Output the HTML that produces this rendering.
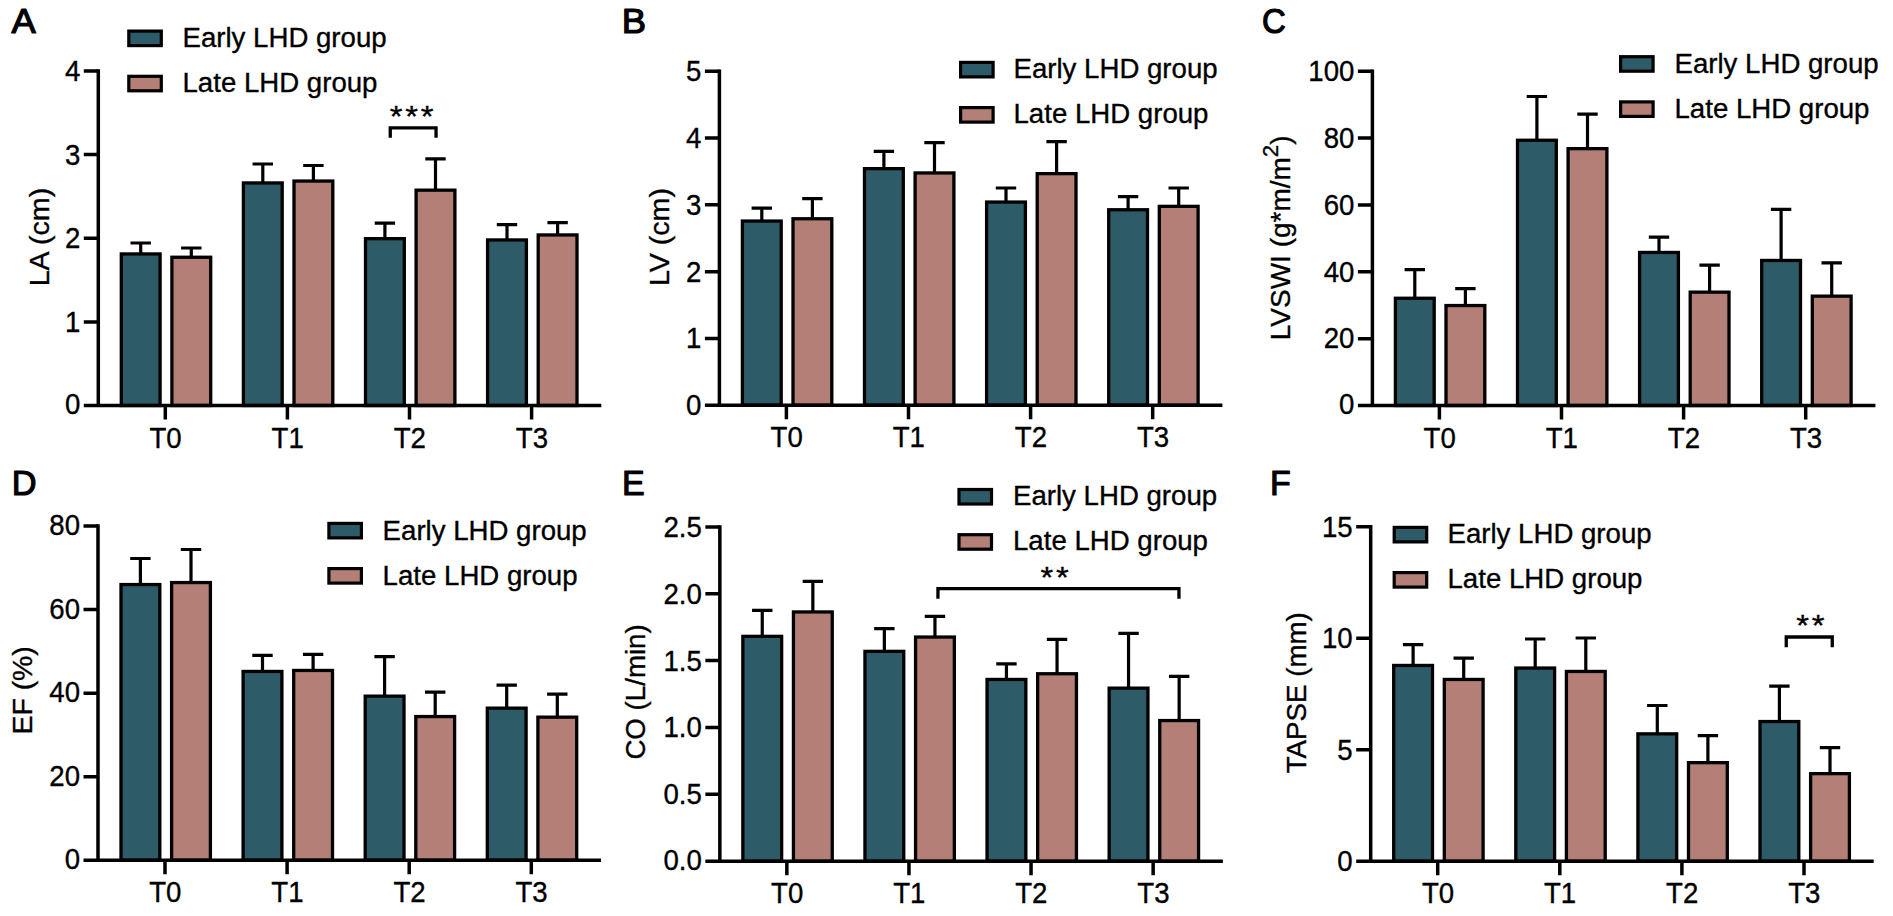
<!DOCTYPE html>
<html lang="en"><head><meta charset="utf-8"><title>Figure</title>
<style>html,body{margin:0;padding:0;background:#fff}body{width:1893px;height:916px;overflow:hidden}svg{display:block}text{font-family:"Liberation Sans", Arial, Helvetica, sans-serif;fill:#000;stroke:#000;stroke-width:.35px}</style></head><body>
<svg width="1893" height="916" viewBox="0 0 1893 916">
<rect width="1893" height="916" fill="#fff"/>
<g>
<text transform="translate(11.5 32.6) scale(1.03 1)" font-size="35.4" style="stroke-width:1.2px;stroke-linejoin:round">A</text>
<path d="M140.7 253.3V243M130.5 243H150.9" fill="none" stroke="#000" stroke-width="3.2"/>
<rect x="121.3" y="253.95" width="38.8" height="151.55" fill="#2d5c68" stroke="#000" stroke-width="3.3"/>
<path d="M191.3 256.6V248M181.1 248H201.5" fill="none" stroke="#000" stroke-width="3.2"/>
<rect x="171.9" y="257.25" width="38.8" height="148.25" fill="#b47f77" stroke="#000" stroke-width="3.3"/>
<path d="M262.8 182.3V164M252.6 164H273" fill="none" stroke="#000" stroke-width="3.2"/>
<rect x="243.4" y="182.95" width="38.8" height="222.55" fill="#2d5c68" stroke="#000" stroke-width="3.3"/>
<path d="M313.4 180.4V165.5M303.2 165.5H323.6" fill="none" stroke="#000" stroke-width="3.2"/>
<rect x="294" y="181.05" width="38.8" height="224.45" fill="#b47f77" stroke="#000" stroke-width="3.3"/>
<path d="M384.9 238V223.2M374.7 223.2H395.1" fill="none" stroke="#000" stroke-width="3.2"/>
<rect x="365.5" y="238.65" width="38.8" height="166.85" fill="#2d5c68" stroke="#000" stroke-width="3.3"/>
<path d="M435.5 189.5V158.8M425.3 158.8H445.7" fill="none" stroke="#000" stroke-width="3.2"/>
<rect x="416.1" y="190.15" width="38.8" height="215.35" fill="#b47f77" stroke="#000" stroke-width="3.3"/>
<path d="M507 239.3V224.6M496.8 224.6H517.2" fill="none" stroke="#000" stroke-width="3.2"/>
<rect x="487.6" y="239.95" width="38.8" height="165.55" fill="#2d5c68" stroke="#000" stroke-width="3.3"/>
<path d="M557.6 234.3V222.6M547.4 222.6H567.8" fill="none" stroke="#000" stroke-width="3.2"/>
<rect x="538.2" y="234.95" width="38.8" height="170.55" fill="#b47f77" stroke="#000" stroke-width="3.3"/>
<path d="M98.3 69.25V407.25M83.8 405.5H601.3" fill="none" stroke="#000" stroke-width="3.5"/>
<text transform="translate(80.3 413.8) scale(0.965 1)" font-size="28.6" text-anchor="end">0</text>
<text transform="translate(80.3 332.07) scale(0.965 1)" font-size="28.6" text-anchor="end">1</text>
<text transform="translate(80.3 248.45) scale(0.965 1)" font-size="28.6" text-anchor="end">2</text>
<text transform="translate(80.3 164.82) scale(0.965 1)" font-size="28.6" text-anchor="end">3</text>
<text transform="translate(80.3 81.2) scale(0.965 1)" font-size="28.6" text-anchor="end">4</text>
<text transform="translate(165.6 447.7) scale(0.965 1)" font-size="28.6" text-anchor="middle">T0</text>
<text transform="translate(287.7 447.7) scale(0.965 1)" font-size="28.6" text-anchor="middle">T1</text>
<text transform="translate(409.8 447.7) scale(0.965 1)" font-size="28.6" text-anchor="middle">T2</text>
<text transform="translate(531.9 447.7) scale(0.965 1)" font-size="28.6" text-anchor="middle">T3</text>
<path d="M83.8 321.88H98.3M83.8 238.25H98.3M83.8 154.62H98.3M83.8 71H98.3M165.3 405.5V419.6M287.4 405.5V419.6M409.5 405.5V419.6M531.6 405.5V419.6" fill="none" stroke="#000" stroke-width="3.5"/>
<text transform="translate(48.5 237.05) rotate(-90) scale(1 0.965)" font-size="28.6" text-anchor="middle">LA (cm)</text>
<rect x="128.8" y="31.1" width="32.5" height="14.5" fill="#2d5c68" stroke="#000" stroke-width="3.2"/>
<text transform="translate(182.5 46.8) scale(0.973 1)" font-size="28.4">Early LHD group</text>
<rect x="128.8" y="76.3" width="32.5" height="14.5" fill="#b47f77" stroke="#000" stroke-width="3.2"/>
<text transform="translate(182.5 92) scale(0.973 1)" font-size="28.4">Late LHD group</text>
<path d="M390.25 137.85V127.85H436.05V137.85" fill="none" stroke="#000" stroke-width="3.3"/>
<text transform="translate(413.1 126.25) scale(1.08 1)" font-size="30.3" letter-spacing="2.6" text-anchor="middle">***</text>
</g>
<g>
<text transform="translate(621.85 32.6) scale(1.03 1)" font-size="35.4" style="stroke-width:1.2px;stroke-linejoin:round">B</text>
<path d="M761.8 220.4V208.1M751.6 208.1H772" fill="none" stroke="#000" stroke-width="3.2"/>
<rect x="742.4" y="221.05" width="38.8" height="184.15" fill="#2d5c68" stroke="#000" stroke-width="3.3"/>
<path d="M812.4 218.1V198.7M802.2 198.7H822.6" fill="none" stroke="#000" stroke-width="3.2"/>
<rect x="793" y="218.75" width="38.8" height="186.45" fill="#b47f77" stroke="#000" stroke-width="3.3"/>
<path d="M883.9 168V151.3M873.7 151.3H894.1" fill="none" stroke="#000" stroke-width="3.2"/>
<rect x="864.5" y="168.65" width="38.8" height="236.55" fill="#2d5c68" stroke="#000" stroke-width="3.3"/>
<path d="M934.5 172.3V142.6M924.3 142.6H944.7" fill="none" stroke="#000" stroke-width="3.2"/>
<rect x="915.1" y="172.95" width="38.8" height="232.25" fill="#b47f77" stroke="#000" stroke-width="3.3"/>
<path d="M1006 201.4V188M995.8 188H1016.2" fill="none" stroke="#000" stroke-width="3.2"/>
<rect x="986.6" y="202.05" width="38.8" height="203.15" fill="#2d5c68" stroke="#000" stroke-width="3.3"/>
<path d="M1056.6 173V141.6M1046.4 141.6H1066.8" fill="none" stroke="#000" stroke-width="3.2"/>
<rect x="1037.2" y="173.65" width="38.8" height="231.55" fill="#b47f77" stroke="#000" stroke-width="3.3"/>
<path d="M1128.1 209.1V196.7M1117.9 196.7H1138.3" fill="none" stroke="#000" stroke-width="3.2"/>
<rect x="1108.7" y="209.75" width="38.8" height="195.45" fill="#2d5c68" stroke="#000" stroke-width="3.3"/>
<path d="M1178.7 205.7V188M1168.5 188H1188.9" fill="none" stroke="#000" stroke-width="3.2"/>
<rect x="1159.3" y="206.35" width="38.8" height="198.85" fill="#b47f77" stroke="#000" stroke-width="3.3"/>
<path d="M719.4 69.55V406.95M704.9 405.2H1222.4" fill="none" stroke="#000" stroke-width="3.5"/>
<text transform="translate(701.4 414.75) scale(0.965 1)" font-size="28.6" text-anchor="end">0</text>
<text transform="translate(701.4 348.47) scale(0.965 1)" font-size="28.6" text-anchor="end">1</text>
<text transform="translate(701.4 281.69) scale(0.965 1)" font-size="28.6" text-anchor="end">2</text>
<text transform="translate(701.4 214.91) scale(0.965 1)" font-size="28.6" text-anchor="end">3</text>
<text transform="translate(701.4 148.13) scale(0.965 1)" font-size="28.6" text-anchor="end">4</text>
<text transform="translate(701.4 81.35) scale(0.965 1)" font-size="28.6" text-anchor="end">5</text>
<text transform="translate(786.7 447.4) scale(0.965 1)" font-size="28.6" text-anchor="middle">T0</text>
<text transform="translate(908.8 447.4) scale(0.965 1)" font-size="28.6" text-anchor="middle">T1</text>
<text transform="translate(1030.9 447.4) scale(0.965 1)" font-size="28.6" text-anchor="middle">T2</text>
<text transform="translate(1153 447.4) scale(0.965 1)" font-size="28.6" text-anchor="middle">T3</text>
<path d="M704.9 338.42H719.4M704.9 271.64H719.4M704.9 204.86H719.4M704.9 138.08H719.4M704.9 71.3H719.4M786.4 405.2V419.3M908.5 405.2V419.3M1030.6 405.2V419.3M1152.7 405.2V419.3" fill="none" stroke="#000" stroke-width="3.5"/>
<text transform="translate(668.6 237.05) rotate(-90) scale(1 0.965)" font-size="28.6" text-anchor="middle">LV (cm)</text>
<rect x="960.6" y="62.4" width="32.5" height="14.5" fill="#2d5c68" stroke="#000" stroke-width="3.2"/>
<text transform="translate(1013.5 78.1) scale(0.973 1)" font-size="28.4">Early LHD group</text>
<rect x="960.6" y="107.6" width="32.5" height="14.5" fill="#b47f77" stroke="#000" stroke-width="3.2"/>
<text transform="translate(1013.5 123.3) scale(0.973 1)" font-size="28.4">Late LHD group</text>
</g>
<g>
<text transform="translate(1262 32.6) scale(0.93 1)" font-size="35.4" style="stroke-width:1.2px;stroke-linejoin:round">C</text>
<path d="M1414.8 297.6V269.6M1404.6 269.6H1425" fill="none" stroke="#000" stroke-width="3.2"/>
<rect x="1395.4" y="298.25" width="38.8" height="107.25" fill="#2d5c68" stroke="#000" stroke-width="3.3"/>
<path d="M1465.4 304.9V288.6M1455.2 288.6H1475.6" fill="none" stroke="#000" stroke-width="3.2"/>
<rect x="1446" y="305.55" width="38.8" height="99.95" fill="#b47f77" stroke="#000" stroke-width="3.3"/>
<path d="M1536.9 139.6V96.5M1526.7 96.5H1547.1" fill="none" stroke="#000" stroke-width="3.2"/>
<rect x="1517.5" y="140.25" width="38.8" height="265.25" fill="#2d5c68" stroke="#000" stroke-width="3.3"/>
<path d="M1587.5 148V114.2M1577.3 114.2H1597.7" fill="none" stroke="#000" stroke-width="3.2"/>
<rect x="1568.1" y="148.65" width="38.8" height="256.85" fill="#b47f77" stroke="#000" stroke-width="3.3"/>
<path d="M1659 251.8V237.2M1648.8 237.2H1669.2" fill="none" stroke="#000" stroke-width="3.2"/>
<rect x="1639.6" y="252.45" width="38.8" height="153.05" fill="#2d5c68" stroke="#000" stroke-width="3.3"/>
<path d="M1709.6 291.5V265.2M1699.4 265.2H1719.8" fill="none" stroke="#000" stroke-width="3.2"/>
<rect x="1690.2" y="292.15" width="38.8" height="113.35" fill="#b47f77" stroke="#000" stroke-width="3.3"/>
<path d="M1781.1 259.8V209.4M1770.9 209.4H1791.3" fill="none" stroke="#000" stroke-width="3.2"/>
<rect x="1761.7" y="260.45" width="38.8" height="145.05" fill="#2d5c68" stroke="#000" stroke-width="3.3"/>
<path d="M1831.7 295.5V262.9M1821.5 262.9H1841.9" fill="none" stroke="#000" stroke-width="3.2"/>
<rect x="1812.3" y="296.15" width="38.8" height="109.35" fill="#b47f77" stroke="#000" stroke-width="3.3"/>
<path d="M1372.4 69.4V407.25M1357.9 405.5H1875.4" fill="none" stroke="#000" stroke-width="3.5"/>
<text transform="translate(1354.4 414.15) scale(0.965 1)" font-size="28.6" text-anchor="end">0</text>
<text transform="translate(1354.4 348.48) scale(0.965 1)" font-size="28.6" text-anchor="end">20</text>
<text transform="translate(1354.4 281.61) scale(0.965 1)" font-size="28.6" text-anchor="end">40</text>
<text transform="translate(1354.4 214.74) scale(0.965 1)" font-size="28.6" text-anchor="end">60</text>
<text transform="translate(1354.4 147.87) scale(0.965 1)" font-size="28.6" text-anchor="end">80</text>
<text transform="translate(1354.4 81) scale(0.965 1)" font-size="28.6" text-anchor="end">100</text>
<text transform="translate(1439.7 447.7) scale(0.965 1)" font-size="28.6" text-anchor="middle">T0</text>
<text transform="translate(1561.8 447.7) scale(0.965 1)" font-size="28.6" text-anchor="middle">T1</text>
<text transform="translate(1683.9 447.7) scale(0.965 1)" font-size="28.6" text-anchor="middle">T2</text>
<text transform="translate(1806 447.7) scale(0.965 1)" font-size="28.6" text-anchor="middle">T3</text>
<path d="M1357.9 338.63H1372.4M1357.9 271.76H1372.4M1357.9 204.89H1372.4M1357.9 138.02H1372.4M1357.9 71.15H1372.4M1439.4 405.5V419.6M1561.5 405.5V419.6M1683.6 405.5V419.6M1805.7 405.5V419.6" fill="none" stroke="#000" stroke-width="3.5"/>
<text transform="translate(1290.4 237.82) rotate(-90) scale(1 0.965)" font-size="28" text-anchor="middle">LVSWI (g*m/m<tspan font-size="22.2" dy="-13.3">2</tspan><tspan dy="13.3">)</tspan></text>
<rect x="1620.6" y="56.7" width="32.5" height="14.5" fill="#2d5c68" stroke="#000" stroke-width="3.2"/>
<text transform="translate(1674.5 72.8) scale(0.973 1)" font-size="28.4">Early LHD group</text>
<rect x="1620.6" y="101.9" width="32.5" height="14.5" fill="#b47f77" stroke="#000" stroke-width="3.2"/>
<text transform="translate(1674.5 118) scale(0.973 1)" font-size="28.4">Late LHD group</text>
</g>
<g>
<text transform="translate(11.85 494.7) scale(0.97 1)" font-size="35.4" style="stroke-width:1.2px;stroke-linejoin:round">D</text>
<path d="M140.4 583.9V558.5M130.2 558.5H150.6" fill="none" stroke="#000" stroke-width="3.2"/>
<rect x="121" y="584.55" width="38.8" height="275.65" fill="#2d5c68" stroke="#000" stroke-width="3.3"/>
<path d="M191 581.9V549.5M180.8 549.5H201.2" fill="none" stroke="#000" stroke-width="3.2"/>
<rect x="171.6" y="582.55" width="38.8" height="277.65" fill="#b47f77" stroke="#000" stroke-width="3.3"/>
<path d="M262.5 670.8V655.4M252.3 655.4H272.7" fill="none" stroke="#000" stroke-width="3.2"/>
<rect x="243.1" y="671.45" width="38.8" height="188.75" fill="#2d5c68" stroke="#000" stroke-width="3.3"/>
<path d="M313.1 669.8V654.4M302.9 654.4H323.3" fill="none" stroke="#000" stroke-width="3.2"/>
<rect x="293.7" y="670.45" width="38.8" height="189.75" fill="#b47f77" stroke="#000" stroke-width="3.3"/>
<path d="M384.6 695.5V656.7M374.4 656.7H394.8" fill="none" stroke="#000" stroke-width="3.2"/>
<rect x="365.2" y="696.15" width="38.8" height="164.05" fill="#2d5c68" stroke="#000" stroke-width="3.3"/>
<path d="M435.2 715.9V692.1M425 692.1H445.4" fill="none" stroke="#000" stroke-width="3.2"/>
<rect x="415.8" y="716.55" width="38.8" height="143.65" fill="#b47f77" stroke="#000" stroke-width="3.3"/>
<path d="M506.7 707.5V685.1M496.5 685.1H516.9" fill="none" stroke="#000" stroke-width="3.2"/>
<rect x="487.3" y="708.15" width="38.8" height="152.05" fill="#2d5c68" stroke="#000" stroke-width="3.3"/>
<path d="M557.3 716.5V694.1M547.1 694.1H567.5" fill="none" stroke="#000" stroke-width="3.2"/>
<rect x="537.9" y="717.15" width="38.8" height="143.05" fill="#b47f77" stroke="#000" stroke-width="3.3"/>
<path d="M98 524.35V861.95M83.5 860.2H601" fill="none" stroke="#000" stroke-width="3.5"/>
<text transform="translate(80 868.8) scale(0.965 1)" font-size="28.6" text-anchor="end">0</text>
<text transform="translate(80 785.88) scale(0.965 1)" font-size="28.6" text-anchor="end">20</text>
<text transform="translate(80 702.35) scale(0.965 1)" font-size="28.6" text-anchor="end">40</text>
<text transform="translate(80 618.83) scale(0.965 1)" font-size="28.6" text-anchor="end">60</text>
<text transform="translate(80 535.3) scale(0.965 1)" font-size="28.6" text-anchor="end">80</text>
<text transform="translate(165.3 902.4) scale(0.965 1)" font-size="28.6" text-anchor="middle">T0</text>
<text transform="translate(287.4 902.4) scale(0.965 1)" font-size="28.6" text-anchor="middle">T1</text>
<text transform="translate(409.5 902.4) scale(0.965 1)" font-size="28.6" text-anchor="middle">T2</text>
<text transform="translate(531.6 902.4) scale(0.965 1)" font-size="28.6" text-anchor="middle">T3</text>
<path d="M83.5 776.68H98M83.5 693.15H98M83.5 609.62H98M83.5 526.1H98M165 860.2V874.3M287.1 860.2V874.3M409.2 860.2V874.3M531.3 860.2V874.3" fill="none" stroke="#000" stroke-width="3.5"/>
<text transform="translate(32.1 690.35) rotate(-90) scale(1 0.965)" font-size="28.4" text-anchor="middle">EF (%)</text>
<rect x="328.9" y="523.4" width="32.5" height="14.5" fill="#2d5c68" stroke="#000" stroke-width="3.2"/>
<text transform="translate(382.6 539.6) scale(0.973 1)" font-size="28.4">Early LHD group</text>
<rect x="328.9" y="568.6" width="32.5" height="14.5" fill="#b47f77" stroke="#000" stroke-width="3.2"/>
<text transform="translate(382.6 584.8) scale(0.973 1)" font-size="28.4">Late LHD group</text>
</g>
<g>
<text transform="translate(622.05 494.7) scale(0.96 1)" font-size="35.4" style="stroke-width:1.2px;stroke-linejoin:round">E</text>
<path d="M762.25 635.7V610.3M752.05 610.3H772.45" fill="none" stroke="#000" stroke-width="3.2"/>
<rect x="742.85" y="636.35" width="38.8" height="224.85" fill="#2d5c68" stroke="#000" stroke-width="3.3"/>
<path d="M812.85 611.3V581.3M802.65 581.3H823.05" fill="none" stroke="#000" stroke-width="3.2"/>
<rect x="793.45" y="611.95" width="38.8" height="249.25" fill="#b47f77" stroke="#000" stroke-width="3.3"/>
<path d="M884.35 650.7V628.7M874.15 628.7H894.55" fill="none" stroke="#000" stroke-width="3.2"/>
<rect x="864.95" y="651.35" width="38.8" height="209.85" fill="#2d5c68" stroke="#000" stroke-width="3.3"/>
<path d="M934.95 636.4V616.3M924.75 616.3H945.15" fill="none" stroke="#000" stroke-width="3.2"/>
<rect x="915.55" y="637.05" width="38.8" height="224.15" fill="#b47f77" stroke="#000" stroke-width="3.3"/>
<path d="M1006.45 678.8V663.8M996.25 663.8H1016.65" fill="none" stroke="#000" stroke-width="3.2"/>
<rect x="987.05" y="679.45" width="38.8" height="181.75" fill="#2d5c68" stroke="#000" stroke-width="3.3"/>
<path d="M1057.05 673.1V639.4M1046.85 639.4H1067.25" fill="none" stroke="#000" stroke-width="3.2"/>
<rect x="1037.65" y="673.75" width="38.8" height="187.45" fill="#b47f77" stroke="#000" stroke-width="3.3"/>
<path d="M1128.55 687.5V633.4M1118.35 633.4H1138.75" fill="none" stroke="#000" stroke-width="3.2"/>
<rect x="1109.15" y="688.15" width="38.8" height="173.05" fill="#2d5c68" stroke="#000" stroke-width="3.3"/>
<path d="M1179.15 719.9V676.4M1168.95 676.4H1189.35" fill="none" stroke="#000" stroke-width="3.2"/>
<rect x="1159.75" y="720.55" width="38.8" height="140.65" fill="#b47f77" stroke="#000" stroke-width="3.3"/>
<path d="M719.85 525.15V862.95M705.35 861.2H1222.85" fill="none" stroke="#000" stroke-width="3.5"/>
<text transform="translate(701.85 870.2) scale(0.965 1)" font-size="28.6" text-anchor="end">0.0</text>
<text transform="translate(701.85 804.34) scale(0.965 1)" font-size="28.6" text-anchor="end">0.5</text>
<text transform="translate(701.85 737.48) scale(0.965 1)" font-size="28.6" text-anchor="end">1.0</text>
<text transform="translate(701.85 670.62) scale(0.965 1)" font-size="28.6" text-anchor="end">1.5</text>
<text transform="translate(701.85 603.76) scale(0.965 1)" font-size="28.6" text-anchor="end">2.0</text>
<text transform="translate(701.85 536.9) scale(0.965 1)" font-size="28.6" text-anchor="end">2.5</text>
<text transform="translate(787.15 903.4) scale(0.965 1)" font-size="28.6" text-anchor="middle">T0</text>
<text transform="translate(909.25 903.4) scale(0.965 1)" font-size="28.6" text-anchor="middle">T1</text>
<text transform="translate(1031.35 903.4) scale(0.965 1)" font-size="28.6" text-anchor="middle">T2</text>
<text transform="translate(1153.45 903.4) scale(0.965 1)" font-size="28.6" text-anchor="middle">T3</text>
<path d="M705.35 794.34H719.85M705.35 727.48H719.85M705.35 660.62H719.85M705.35 593.76H719.85M705.35 526.9H719.85M786.85 861.2V875.3M908.95 861.2V875.3M1031.05 861.2V875.3M1153.15 861.2V875.3" fill="none" stroke="#000" stroke-width="3.5"/>
<text transform="translate(645.3 691.95) rotate(-90) scale(1 0.965)" font-size="27.7" text-anchor="middle">CO (L/min)</text>
<rect x="959" y="489.5" width="32.5" height="14.5" fill="#2d5c68" stroke="#000" stroke-width="3.2"/>
<text transform="translate(1013 504.8) scale(0.973 1)" font-size="28.4">Early LHD group</text>
<rect x="959" y="534.7" width="32.5" height="14.5" fill="#b47f77" stroke="#000" stroke-width="3.2"/>
<text transform="translate(1013 550) scale(0.973 1)" font-size="28.4">Late LHD group</text>
<path d="M937.95 598.85V588.65H1178.95V598.85" fill="none" stroke="#000" stroke-width="3.3"/>
<text transform="translate(1056 587.05) scale(1.08 1)" font-size="30.3" letter-spacing="2.6" text-anchor="middle">**</text>
</g>
<g>
<text transform="translate(1270 494.7) scale(0.96 1)" font-size="35.4" style="stroke-width:1.2px;stroke-linejoin:round">F</text>
<path d="M1413.1 664.8V644.7M1402.9 644.7H1423.3" fill="none" stroke="#000" stroke-width="3.2"/>
<rect x="1393.7" y="665.45" width="38.8" height="195.75" fill="#2d5c68" stroke="#000" stroke-width="3.3"/>
<path d="M1463.7 678.8V658.1M1453.5 658.1H1473.9" fill="none" stroke="#000" stroke-width="3.2"/>
<rect x="1444.3" y="679.45" width="38.8" height="181.75" fill="#b47f77" stroke="#000" stroke-width="3.3"/>
<path d="M1535.2 667.4V639M1525 639H1545.4" fill="none" stroke="#000" stroke-width="3.2"/>
<rect x="1515.8" y="668.05" width="38.8" height="193.15" fill="#2d5c68" stroke="#000" stroke-width="3.3"/>
<path d="M1585.8 670.8V638M1575.6 638H1596" fill="none" stroke="#000" stroke-width="3.2"/>
<rect x="1566.4" y="671.45" width="38.8" height="189.75" fill="#b47f77" stroke="#000" stroke-width="3.3"/>
<path d="M1657.3 733.2V705.5M1647.1 705.5H1667.5" fill="none" stroke="#000" stroke-width="3.2"/>
<rect x="1637.9" y="733.85" width="38.8" height="127.35" fill="#2d5c68" stroke="#000" stroke-width="3.3"/>
<path d="M1707.9 762V735.6M1697.7 735.6H1718.1" fill="none" stroke="#000" stroke-width="3.2"/>
<rect x="1688.5" y="762.65" width="38.8" height="98.55" fill="#b47f77" stroke="#000" stroke-width="3.3"/>
<path d="M1779.4 720.9V686.1M1769.2 686.1H1789.6" fill="none" stroke="#000" stroke-width="3.2"/>
<rect x="1760" y="721.55" width="38.8" height="139.65" fill="#2d5c68" stroke="#000" stroke-width="3.3"/>
<path d="M1830 773V747.6M1819.8 747.6H1840.2" fill="none" stroke="#000" stroke-width="3.2"/>
<rect x="1810.6" y="773.65" width="38.8" height="87.55" fill="#b47f77" stroke="#000" stroke-width="3.3"/>
<path d="M1370.7 525V862.95M1356.2 861.2H1873.7" fill="none" stroke="#000" stroke-width="3.5"/>
<text transform="translate(1352.7 870.65) scale(0.965 1)" font-size="28.6" text-anchor="end">0</text>
<text transform="translate(1352.7 759.67) scale(0.965 1)" font-size="28.6" text-anchor="end">5</text>
<text transform="translate(1352.7 648.18) scale(0.965 1)" font-size="28.6" text-anchor="end">10</text>
<text transform="translate(1352.7 536.7) scale(0.965 1)" font-size="28.6" text-anchor="end">15</text>
<text transform="translate(1438 903.4) scale(0.965 1)" font-size="28.6" text-anchor="middle">T0</text>
<text transform="translate(1560.1 903.4) scale(0.965 1)" font-size="28.6" text-anchor="middle">T1</text>
<text transform="translate(1682.2 903.4) scale(0.965 1)" font-size="28.6" text-anchor="middle">T2</text>
<text transform="translate(1804.3 903.4) scale(0.965 1)" font-size="28.6" text-anchor="middle">T3</text>
<path d="M1356.2 749.72H1370.7M1356.2 638.23H1370.7M1356.2 526.75H1370.7M1437.7 861.2V875.3M1559.8 861.2V875.3M1681.9 861.2V875.3M1804 861.2V875.3" fill="none" stroke="#000" stroke-width="3.5"/>
<text transform="translate(1306 692.77) rotate(-90) scale(1 0.965)" font-size="27.7" text-anchor="middle">TAPSE (mm)</text>
<rect x="1394.2" y="527.4" width="32.5" height="14.5" fill="#2d5c68" stroke="#000" stroke-width="3.2"/>
<text transform="translate(1447.5 543.1) scale(0.973 1)" font-size="28.4">Early LHD group</text>
<rect x="1394.2" y="572.6" width="32.5" height="14.5" fill="#b47f77" stroke="#000" stroke-width="3.2"/>
<text transform="translate(1447.5 588.3) scale(0.973 1)" font-size="28.4">Late LHD group</text>
<path d="M1786.25 647.2V637H1832.25V647.2" fill="none" stroke="#000" stroke-width="3.3"/>
<text transform="translate(1811.8 635.4) scale(1.08 1)" font-size="30.3" letter-spacing="2.6" text-anchor="middle">**</text>
</g>
</svg></body></html>
